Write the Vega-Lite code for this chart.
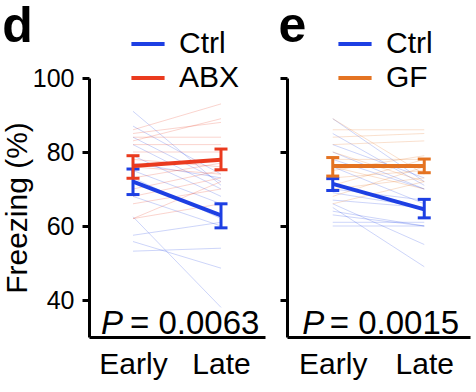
{
  "$schema": "https://vega.github.io/schema/vega-lite/v6.json",
  "padding": {"left": 2, "top": 2, "right": 2, "bottom": 2},
  "config": {
    "font": "Liberation Sans",
    "view": {"stroke": null},
    "axis": {"domainColor": "black", "domainWidth": 3, "tickColor": "black", "tickWidth": 3, "tickSize": 7, "labelColor": "black", "grid": false, "titleColor": "black", "labelFont": "Liberation Sans", "titleFont": "Liberation Sans"},
    "legend": {"symbolType": "stroke", "symbolStrokeWidth": 4, "symbolOpacity": 1, "symbolSize": 1100, "labelFontSize": 30, "labelColor": "black", "labelOffset": 12, "rowPadding": 0, "padding": 0, "title": null},
    "title": {"color": "black", "font": "Liberation Sans"}
  },
  "datasets": {
    "d_ind": [
      {"id": "c1", "group": "Ctrl", "time": "Early", "value": 91}, {"id": "c1", "group": "Ctrl", "time": "Late", "value": 71},
      {"id": "c2", "group": "Ctrl", "time": "Early", "value": 87}, {"id": "c2", "group": "Ctrl", "time": "Late", "value": 74},
      {"id": "c3", "group": "Ctrl", "time": "Early", "value": 84}, {"id": "c3", "group": "Ctrl", "time": "Late", "value": 72},
      {"id": "c4", "group": "Ctrl", "time": "Early", "value": 82}, {"id": "c4", "group": "Ctrl", "time": "Late", "value": 70},
      {"id": "c5", "group": "Ctrl", "time": "Early", "value": 79}, {"id": "c5", "group": "Ctrl", "time": "Late", "value": 68},
      {"id": "c6", "group": "Ctrl", "time": "Early", "value": 77}, {"id": "c6", "group": "Ctrl", "time": "Late", "value": 73},
      {"id": "c7", "group": "Ctrl", "time": "Early", "value": 75}, {"id": "c7", "group": "Ctrl", "time": "Late", "value": 66},
      {"id": "c8", "group": "Ctrl", "time": "Early", "value": 73}, {"id": "c8", "group": "Ctrl", "time": "Late", "value": 62},
      {"id": "c9", "group": "Ctrl", "time": "Early", "value": 68}, {"id": "c9", "group": "Ctrl", "time": "Late", "value": 60},
      {"id": "c10", "group": "Ctrl", "time": "Early", "value": 62.5}, {"id": "c10", "group": "Ctrl", "time": "Late", "value": 38},
      {"id": "c11", "group": "Ctrl", "time": "Early", "value": 57.5}, {"id": "c11", "group": "Ctrl", "time": "Late", "value": 61},
      {"id": "c12", "group": "Ctrl", "time": "Early", "value": 55.8}, {"id": "c12", "group": "Ctrl", "time": "Late", "value": 48.6},
      {"id": "c13", "group": "Ctrl", "time": "Early", "value": 53.2}, {"id": "c13", "group": "Ctrl", "time": "Late", "value": 54},
      {"id": "a1", "group": "ABX", "time": "Early", "value": 86}, {"id": "a1", "group": "ABX", "time": "Late", "value": 93},
      {"id": "a2", "group": "ABX", "time": "Early", "value": 85}, {"id": "a2", "group": "ABX", "time": "Late", "value": 88},
      {"id": "a3", "group": "ABX", "time": "Early", "value": 84}, {"id": "a3", "group": "ABX", "time": "Late", "value": 84},
      {"id": "a4", "group": "ABX", "time": "Early", "value": 83}, {"id": "a4", "group": "ABX", "time": "Late", "value": 89},
      {"id": "a5", "group": "ABX", "time": "Early", "value": 82}, {"id": "a5", "group": "ABX", "time": "Late", "value": 82},
      {"id": "a6", "group": "ABX", "time": "Early", "value": 80}, {"id": "a6", "group": "ABX", "time": "Late", "value": 80},
      {"id": "a7", "group": "ABX", "time": "Early", "value": 78}, {"id": "a7", "group": "ABX", "time": "Late", "value": 76},
      {"id": "a8", "group": "ABX", "time": "Early", "value": 76}, {"id": "a8", "group": "ABX", "time": "Late", "value": 74},
      {"id": "a9", "group": "ABX", "time": "Early", "value": 73}, {"id": "a9", "group": "ABX", "time": "Late", "value": 77},
      {"id": "a10", "group": "ABX", "time": "Early", "value": 70}, {"id": "a10", "group": "ABX", "time": "Late", "value": 75},
      {"id": "a11", "group": "ABX", "time": "Early", "value": 68}, {"id": "a11", "group": "ABX", "time": "Late", "value": 73},
      {"id": "a12", "group": "ABX", "time": "Early", "value": 66}, {"id": "a12", "group": "ABX", "time": "Late", "value": 70},
      {"id": "a13", "group": "ABX", "time": "Early", "value": 62}, {"id": "a13", "group": "ABX", "time": "Late", "value": 72},
      {"id": "a14", "group": "ABX", "time": "Early", "value": 62}, {"id": "a14", "group": "ABX", "time": "Late", "value": 66}
    ],
    "d_mean": [
      {"group": "Ctrl", "time": "Early", "mean": 72.0, "lo": 68.5, "hi": 75.4},
      {"group": "Ctrl", "time": "Late", "mean": 62.9, "lo": 59.5, "hi": 66.0},
      {"group": "ABX", "time": "Early", "mean": 76.2, "lo": 72.9, "hi": 79.0},
      {"group": "ABX", "time": "Late", "mean": 77.9, "lo": 75.2, "hi": 80.8}
    ],
    "e_ind": [
      {"id": "c1", "group": "Ctrl", "time": "Early", "value": 89}, {"id": "c1", "group": "Ctrl", "time": "Late", "value": 72},
      {"id": "c2", "group": "Ctrl", "time": "Early", "value": 85}, {"id": "c2", "group": "Ctrl", "time": "Late", "value": 71},
      {"id": "c3", "group": "Ctrl", "time": "Early", "value": 82}, {"id": "c3", "group": "Ctrl", "time": "Late", "value": 73},
      {"id": "c4", "group": "Ctrl", "time": "Early", "value": 80}, {"id": "c4", "group": "Ctrl", "time": "Late", "value": 70},
      {"id": "c5", "group": "Ctrl", "time": "Early", "value": 78}, {"id": "c5", "group": "Ctrl", "time": "Late", "value": 70},
      {"id": "c6", "group": "Ctrl", "time": "Early", "value": 76}, {"id": "c6", "group": "Ctrl", "time": "Late", "value": 66},
      {"id": "c7", "group": "Ctrl", "time": "Early", "value": 70}, {"id": "c7", "group": "Ctrl", "time": "Late", "value": 67},
      {"id": "c8", "group": "Ctrl", "time": "Early", "value": 69}, {"id": "c8", "group": "Ctrl", "time": "Late", "value": 65},
      {"id": "c9", "group": "Ctrl", "time": "Early", "value": 67}, {"id": "c9", "group": "Ctrl", "time": "Late", "value": 65},
      {"id": "c10", "group": "Ctrl", "time": "Early", "value": 66}, {"id": "c10", "group": "Ctrl", "time": "Late", "value": 55},
      {"id": "c11", "group": "Ctrl", "time": "Early", "value": 64}, {"id": "c11", "group": "Ctrl", "time": "Late", "value": 60},
      {"id": "c12", "group": "Ctrl", "time": "Early", "value": 65}, {"id": "c12", "group": "Ctrl", "time": "Late", "value": 49},
      {"id": "c13", "group": "Ctrl", "time": "Early", "value": 63}, {"id": "c13", "group": "Ctrl", "time": "Late", "value": 60},
      {"id": "c14", "group": "Ctrl", "time": "Early", "value": 61}, {"id": "c14", "group": "Ctrl", "time": "Late", "value": 61},
      {"id": "c15", "group": "Ctrl", "time": "Early", "value": 60}, {"id": "c15", "group": "Ctrl", "time": "Late", "value": 60},
      {"id": "g1", "group": "GF", "time": "Early", "value": 89}, {"id": "g1", "group": "GF", "time": "Late", "value": 74},
      {"id": "g2", "group": "GF", "time": "Early", "value": 86}, {"id": "g2", "group": "GF", "time": "Late", "value": 86},
      {"id": "g3", "group": "GF", "time": "Early", "value": 84}, {"id": "g3", "group": "GF", "time": "Late", "value": 85},
      {"id": "g4", "group": "GF", "time": "Early", "value": 82}, {"id": "g4", "group": "GF", "time": "Late", "value": 83},
      {"id": "g5", "group": "GF", "time": "Early", "value": 80}, {"id": "g5", "group": "GF", "time": "Late", "value": 72},
      {"id": "g6", "group": "GF", "time": "Early", "value": 78}, {"id": "g6", "group": "GF", "time": "Late", "value": 78},
      {"id": "g7", "group": "GF", "time": "Early", "value": 76}, {"id": "g7", "group": "GF", "time": "Late", "value": 70},
      {"id": "g8", "group": "GF", "time": "Early", "value": 75}, {"id": "g8", "group": "GF", "time": "Late", "value": 79},
      {"id": "g9", "group": "GF", "time": "Early", "value": 73}, {"id": "g9", "group": "GF", "time": "Late", "value": 75},
      {"id": "g10", "group": "GF", "time": "Early", "value": 71}, {"id": "g10", "group": "GF", "time": "Late", "value": 78},
      {"id": "g11", "group": "GF", "time": "Early", "value": 70}, {"id": "g11", "group": "GF", "time": "Late", "value": 73},
      {"id": "g12", "group": "GF", "time": "Early", "value": 68}, {"id": "g12", "group": "GF", "time": "Late", "value": 76},
      {"id": "g13", "group": "GF", "time": "Early", "value": 66}, {"id": "g13", "group": "GF", "time": "Late", "value": 72}
    ],
    "e_mean": [
      {"group": "Ctrl", "time": "Early", "mean": 71.4, "lo": 69.6, "hi": 72.8},
      {"group": "Ctrl", "time": "Late", "mean": 64.5, "lo": 62.2, "hi": 67.2},
      {"group": "GF", "time": "Early", "mean": 76.2, "lo": 73.5, "hi": 78.5},
      {"group": "GF", "time": "Late", "mean": 76.2, "lo": 74.4, "hi": 78.1}
    ]
  },
  "resolve": {"scale": {"color": "independent", "y": "independent", "x": "independent"}, "legend": {"color": "independent"}},
  "spacing": 13,
  "hconcat": [
    {
      "width": 176,
      "height": 259,
      "title": {"text": "d", "fontSize": 50, "fontWeight": 900, "anchor": "start", "frame": "bounds", "offset": -27},
      "encoding": {
        "x": {"field": "time", "type": "nominal", "scale": {"type": "point", "domain": ["Early", "Late"], "padding": 0.5}, "axis": {"title": null, "labelAngle": 0, "labelFontSize": 30, "ticks": false, "labelPadding": 12}},
        "y": {"type": "quantitative", "scale": {"domain": [30, 100], "nice": false, "zero": false}, "axis": {"title": "Freezing (%)", "titleFontSize": 30, "titleFontWeight": "normal", "titlePadding": 0, "values": [40, 60, 80, 100], "labelFontSize": 25, "labelPadding": 8}},
        "color": {"field": "group", "type": "nominal", "scale": {"domain": ["Ctrl", "ABX"], "range": ["#1d3fe3", "#ea3a1e"]}, "legend": {"orient": "none", "legendX": 40, "legendY": -53, "symbolType": "stroke", "symbolStrokeWidth": 4, "symbolOpacity": 1, "symbolSize": 1100, "labelFontSize": 30, "title": null}}
      },
      "layer": [
        {"data": {"name": "d_ind"}, "mark": {"type": "line", "strokeWidth": 1, "opacity": 0.22}, "encoding": {"y": {"field": "value", "type": "quantitative"}, "detail": {"field": "id", "type": "nominal"}}},
        {"data": {"name": "d_mean"}, "transform": [{"filter": "datum.group === 'Ctrl'"}], "layer": [
          {"mark": {"type": "rule", "strokeWidth": 3}, "encoding": {"y": {"field": "lo", "type": "quantitative"}, "y2": {"field": "hi"}}},
          {"mark": {"type": "tick", "size": 13, "thickness": 3, "opacity": 1}, "encoding": {"y": {"field": "lo", "type": "quantitative"}}},
          {"mark": {"type": "tick", "size": 13, "thickness": 3, "opacity": 1}, "encoding": {"y": {"field": "hi", "type": "quantitative"}}},
          {"mark": {"type": "line", "strokeWidth": 4}, "encoding": {"y": {"field": "mean", "type": "quantitative"}}}
        ]},
        {"data": {"name": "d_mean"}, "transform": [{"filter": "datum.group === 'ABX'"}], "layer": [
          {"mark": {"type": "rule", "strokeWidth": 3}, "encoding": {"y": {"field": "lo", "type": "quantitative"}, "y2": {"field": "hi"}}},
          {"mark": {"type": "tick", "size": 13, "thickness": 3, "opacity": 1}, "encoding": {"y": {"field": "lo", "type": "quantitative"}}},
          {"mark": {"type": "tick", "size": 13, "thickness": 3, "opacity": 1}, "encoding": {"y": {"field": "hi", "type": "quantitative"}}},
          {"mark": {"type": "line", "strokeWidth": 4}, "encoding": {"y": {"field": "mean", "type": "quantitative"}}}
        ]},
        {"data": {"values": [{"time": "Early", "y": 33.5, "t": "P"}]}, "mark": {"type": "text", "fontSize": 33, "fontStyle": "italic", "align": "center", "baseline": "middle", "dx": -21}, "encoding": {"y": {"field": "y", "type": "quantitative"}, "text": {"field": "t"}, "color": {"value": "black"}}},
        {"data": {"values": [{"time": "Early", "y": 33.5, "t": "= 0.0063"}]}, "mark": {"type": "text", "fontSize": 33, "align": "left", "baseline": "middle", "dx": -3}, "encoding": {"y": {"field": "y", "type": "quantitative"}, "text": {"field": "t"}, "color": {"value": "black"}}}
      ]
    },
    {
      "width": 183,
      "height": 259,
      "title": {"text": "e", "fontSize": 50, "fontWeight": 900, "anchor": "start", "frame": "bounds", "offset": -27},
      "encoding": {
        "x": {"field": "time", "type": "nominal", "scale": {"type": "point", "domain": ["Early", "Late"], "padding": 0.5}, "axis": {"title": null, "labelAngle": 0, "labelFontSize": 30, "ticks": false, "labelPadding": 12}},
        "y": {"type": "quantitative", "scale": {"domain": [30, 100], "nice": false, "zero": false}, "axis": {"title": null, "values": [40, 60, 80, 100], "labels": false}},
        "color": {"field": "group", "type": "nominal", "scale": {"domain": ["Ctrl", "GF"], "range": ["#1d3fe3", "#e47322"]}, "legend": {"orient": "none", "legendX": 49, "legendY": -53, "symbolType": "stroke", "symbolStrokeWidth": 4, "symbolOpacity": 1, "symbolSize": 1100, "labelFontSize": 30, "title": null}}
      },
      "layer": [
        {"data": {"name": "e_ind"}, "mark": {"type": "line", "strokeWidth": 1, "opacity": 0.22}, "encoding": {"y": {"field": "value", "type": "quantitative"}, "detail": {"field": "id", "type": "nominal"}}},
        {"data": {"name": "e_mean"}, "transform": [{"filter": "datum.group === 'Ctrl'"}], "layer": [
          {"mark": {"type": "rule", "strokeWidth": 3}, "encoding": {"y": {"field": "lo", "type": "quantitative"}, "y2": {"field": "hi"}}},
          {"mark": {"type": "tick", "size": 13, "thickness": 3, "opacity": 1}, "encoding": {"y": {"field": "lo", "type": "quantitative"}}},
          {"mark": {"type": "tick", "size": 13, "thickness": 3, "opacity": 1}, "encoding": {"y": {"field": "hi", "type": "quantitative"}}},
          {"mark": {"type": "line", "strokeWidth": 4}, "encoding": {"y": {"field": "mean", "type": "quantitative"}}}
        ]},
        {"data": {"name": "e_mean"}, "transform": [{"filter": "datum.group === 'GF'"}], "layer": [
          {"mark": {"type": "rule", "strokeWidth": 3}, "encoding": {"y": {"field": "lo", "type": "quantitative"}, "y2": {"field": "hi"}}},
          {"mark": {"type": "tick", "size": 13, "thickness": 3, "opacity": 1}, "encoding": {"y": {"field": "lo", "type": "quantitative"}}},
          {"mark": {"type": "tick", "size": 13, "thickness": 3, "opacity": 1}, "encoding": {"y": {"field": "hi", "type": "quantitative"}}},
          {"mark": {"type": "line", "strokeWidth": 4}, "encoding": {"y": {"field": "mean", "type": "quantitative"}}}
        ]},
        {"data": {"values": [{"time": "Early", "y": 33.5, "t": "P"}]}, "mark": {"type": "text", "fontSize": 33, "fontStyle": "italic", "align": "center", "baseline": "middle", "dx": -19.5}, "encoding": {"y": {"field": "y", "type": "quantitative"}, "text": {"field": "t"}, "color": {"value": "black"}}},
        {"data": {"values": [{"time": "Early", "y": 33.5, "t": "= 0.0015"}]}, "mark": {"type": "text", "fontSize": 33, "align": "left", "baseline": "middle", "dx": -3}, "encoding": {"y": {"field": "y", "type": "quantitative"}, "text": {"field": "t"}, "color": {"value": "black"}}}
      ]
    }
  ]
}
